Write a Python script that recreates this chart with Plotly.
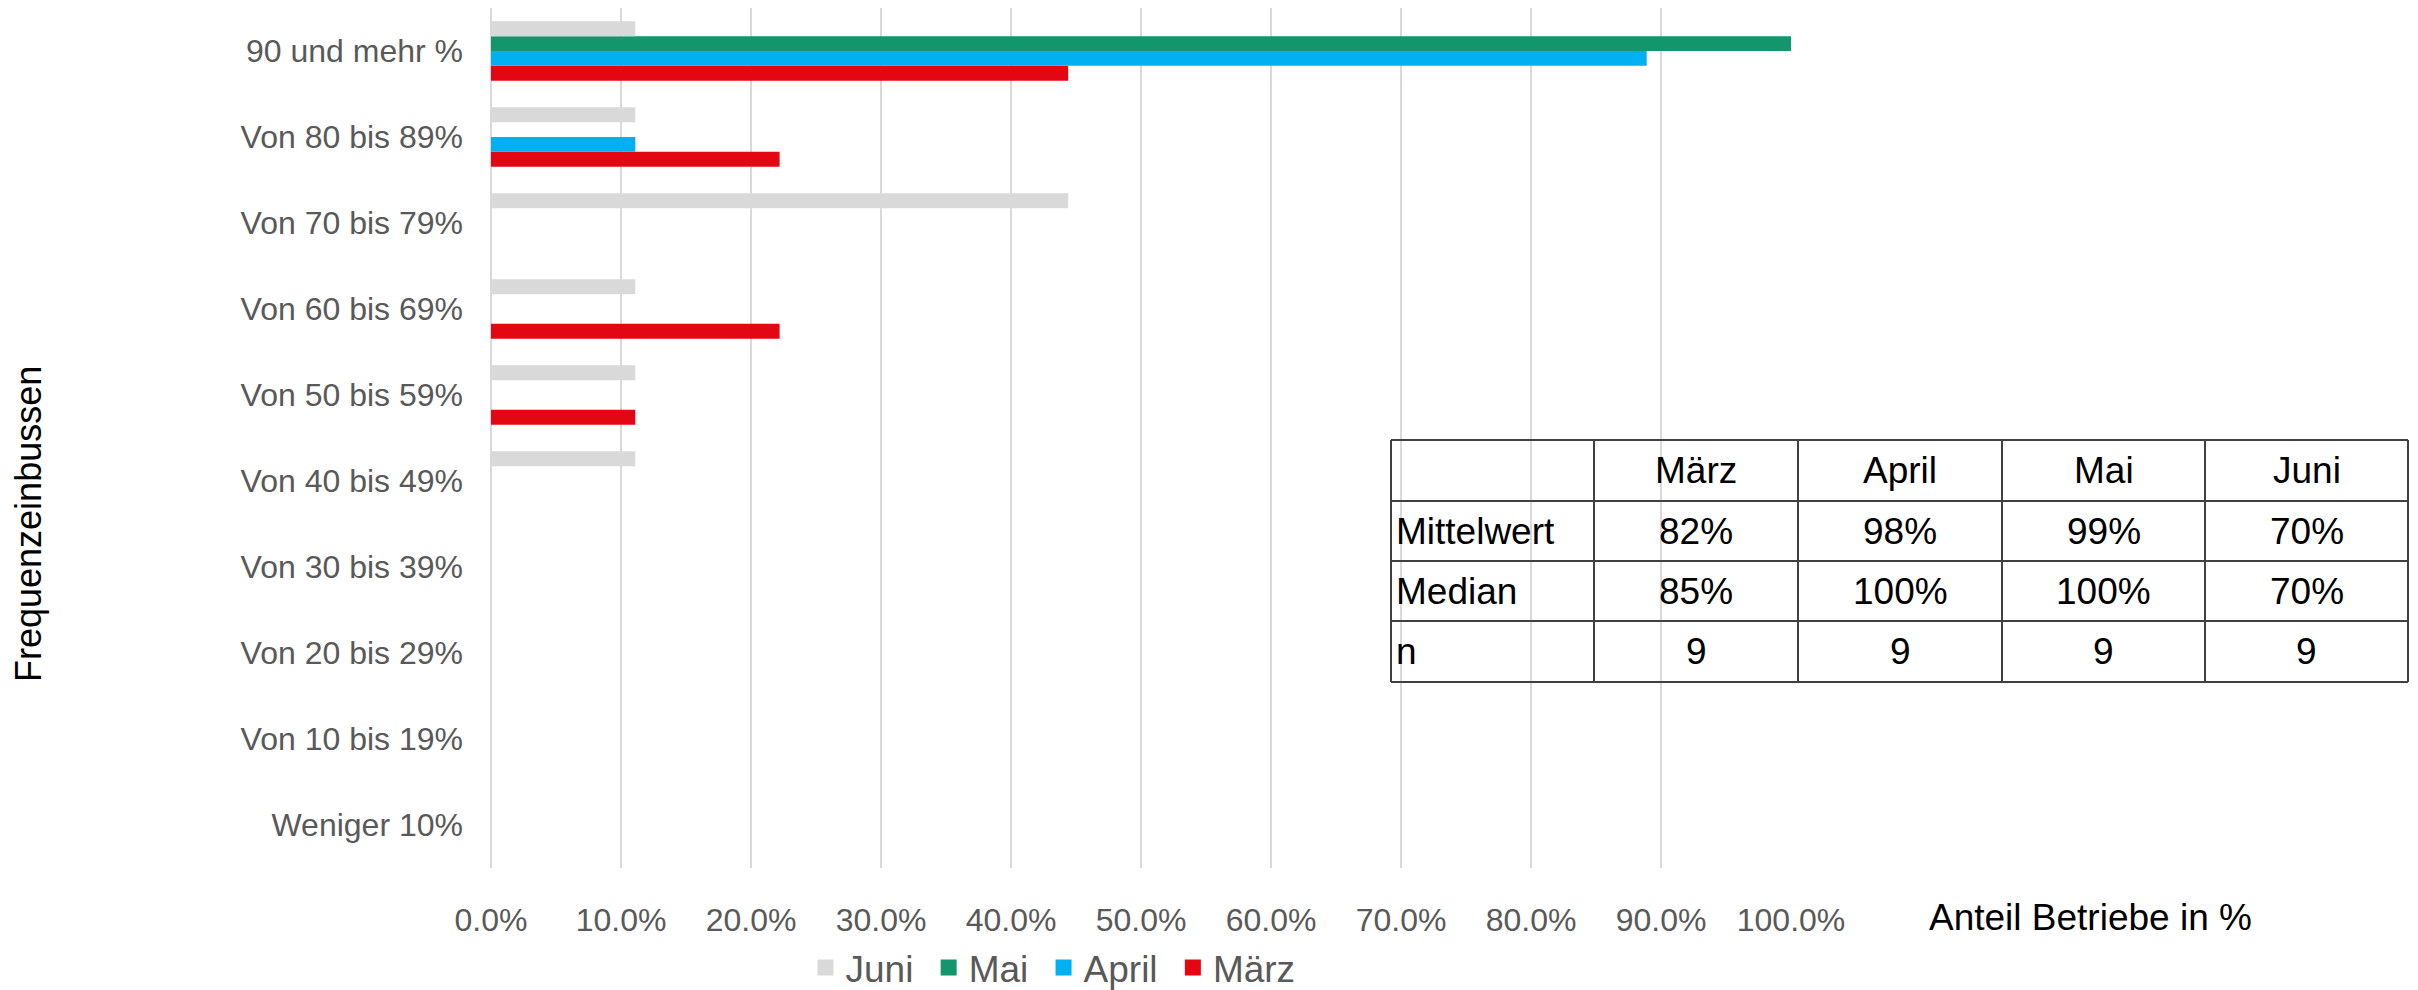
import plotly.graph_objects as go

# page body has an 8px margin, so the figure starts at (8, 8) in the window;
# it is made a bit taller than the window so the legend never pushes the margins
OFF = 8
W, H = 2418 - OFF, 1000


def px(x):
    return (x - OFF) / W


def py(y):
    return 1 - (y - OFF) / H


# categories from top to bottom as shown in the chart
kategorien = [
    "90 und mehr %", "Von 80 bis 89%", "Von 70 bis 79%", "Von 60 bis 69%",
    "Von 50 bis 59%", "Von 40 bis 49%", "Von 30 bis 39%", "Von 20 bis 29%",
    "Von 10 bis 19%", "Weniger 10%",
]

# Anteil Betriebe (0..1), same order as kategorien
maerz = [0.444, 0.222, 0.0, 0.222, 0.111, 0.0, 0.0, 0.0, 0.0, 0.0]
april = [0.889, 0.111, 0.0, 0.0, 0.0, 0.0, 0.0, 0.0, 0.0, 0.0]
mai = [1.0, 0.0, 0.0, 0.0, 0.0, 0.0, 0.0, 0.0, 0.0, 0.0]
juni = [0.111, 0.111, 0.444, 0.111, 0.111, 0.111, 0.0, 0.0, 0.0, 0.0]

# Tabelle
monate = ["März", "April", "Mai", "Juni"]
zeilen = ["Mittelwert", "Median", "n"]
mittelwert = ["82%", "98%", "99%", "70%"]
median = ["85%", "100%", "100%", "70%"]
n_werte = ["9", "9", "9", "9"]

serien = [
    ("März", maerz, "#E30613"),
    ("April", april, "#00B0F0"),
    ("Mai", mai, "#13966C"),
    ("Juni", juni, "#D9D9D9"),
]

FONT = "Liberation Sans, Arial, sans-serif"
GRAU = "#595959"

fig = go.Figure()
for name, werte, farbe in serien:
    fig.add_trace(go.Bar(
        y=kategorien, x=werte, name=name, orientation="h",
        marker=dict(color=farbe, line=dict(width=0)),
        showlegend=False,
    ))
    # bigger square legend symbol than the bar default
    fig.add_trace(go.Scatter(
        x=[None], y=[None], name=name + "\u00a0", mode="markers",
        marker=dict(symbol="square", size=20, color=farbe),
    ))

# table drawn with lines + text (pixel positions of the reference)
spalten_px = [1391, 1594, 1798, 2002, 2205, 2408]
zeilen_px = [440, 501, 561, 621, 682]

shapes = []
for xp in spalten_px:
    shapes.append(dict(type="line", xref="paper", yref="paper",
                       x0=px(xp), x1=px(xp), y0=py(zeilen_px[0]), y1=py(zeilen_px[-1]),
                       line=dict(color="#404040", width=2)))
for yp in zeilen_px:
    shapes.append(dict(type="line", xref="paper", yref="paper",
                       x0=px(spalten_px[0]), x1=px(spalten_px[-1]), y0=py(yp), y1=py(yp),
                       line=dict(color="#404040", width=2)))

annotations = []
tabelle = [[""] + monate] + [[z] + w for z, w in zip(zeilen, [mittelwert, median, n_werte])]
for r, zeile in enumerate(tabelle):
    yc = (zeilen_px[r] + zeilen_px[r + 1]) / 2
    for c, txt in enumerate(zeile):
        if not txt:
            continue
        if c == 0:
            x, anchor = px(spalten_px[0] + 3), "left"
        else:
            x, anchor = px((spalten_px[c] + spalten_px[c + 1]) / 2), "center"
        annotations.append(dict(text=txt, x=x, y=py(yc), xref="paper", yref="paper",
                                xanchor=anchor, yanchor="middle", showarrow=False,
                                font=dict(size=37, color="black")))

annotations += [
    dict(text="Frequenzeinbussen", x=px(28), y=py(524), xref="paper", yref="paper",
         textangle=-90, showarrow=False, font=dict(size=36, color="black"),
         xanchor="center", yanchor="middle"),
    dict(text="Anteil Betriebe in %", x=px(2090), y=py(917), xref="paper", yref="paper",
         showarrow=False, font=dict(size=37, color="black"),
         xanchor="center", yanchor="middle"),
]

fig.update_layout(
    width=W, height=H,
    margin=dict(l=0, r=0, t=0, b=0),
    plot_bgcolor="white", paper_bgcolor="white",
    barmode="group", bargap=0.31, bargroupgap=0,
    font=dict(family=FONT, size=32, color=GRAU),
    showlegend=True,
    legend=dict(
        orientation="h", traceorder="reversed", itemsizing="trace",
        x=px(1058), xanchor="center", y=py(968), yanchor="middle",
        font=dict(size=37, color=GRAU), itemwidth=30,
    ),
    xaxis=dict(
        domain=[px(491), px(1791)], range=[0, 1], dtick=0.1, tickformat=".1%",
        showgrid=True, gridcolor="#D9D9D9", gridwidth=2,
        zeroline=True, zerolinecolor="#D9D9D9", zerolinewidth=2,
        showline=False, ticks="", ticklabelstandoff=30, automargin=False,
        tickfont=dict(size=32, color=GRAU),
    ),
    yaxis=dict(
        domain=[py(868), py(8)],
        categoryorder="array", categoryarray=kategorien[::-1],
        showgrid=False, zeroline=False, showline=False, ticks="", automargin=False,
        ticklabelstandoff=27, tickfont=dict(size=32, color=GRAU),
    ),
    shapes=shapes,
    annotations=annotations,
)

fig.write_html("out.html")
